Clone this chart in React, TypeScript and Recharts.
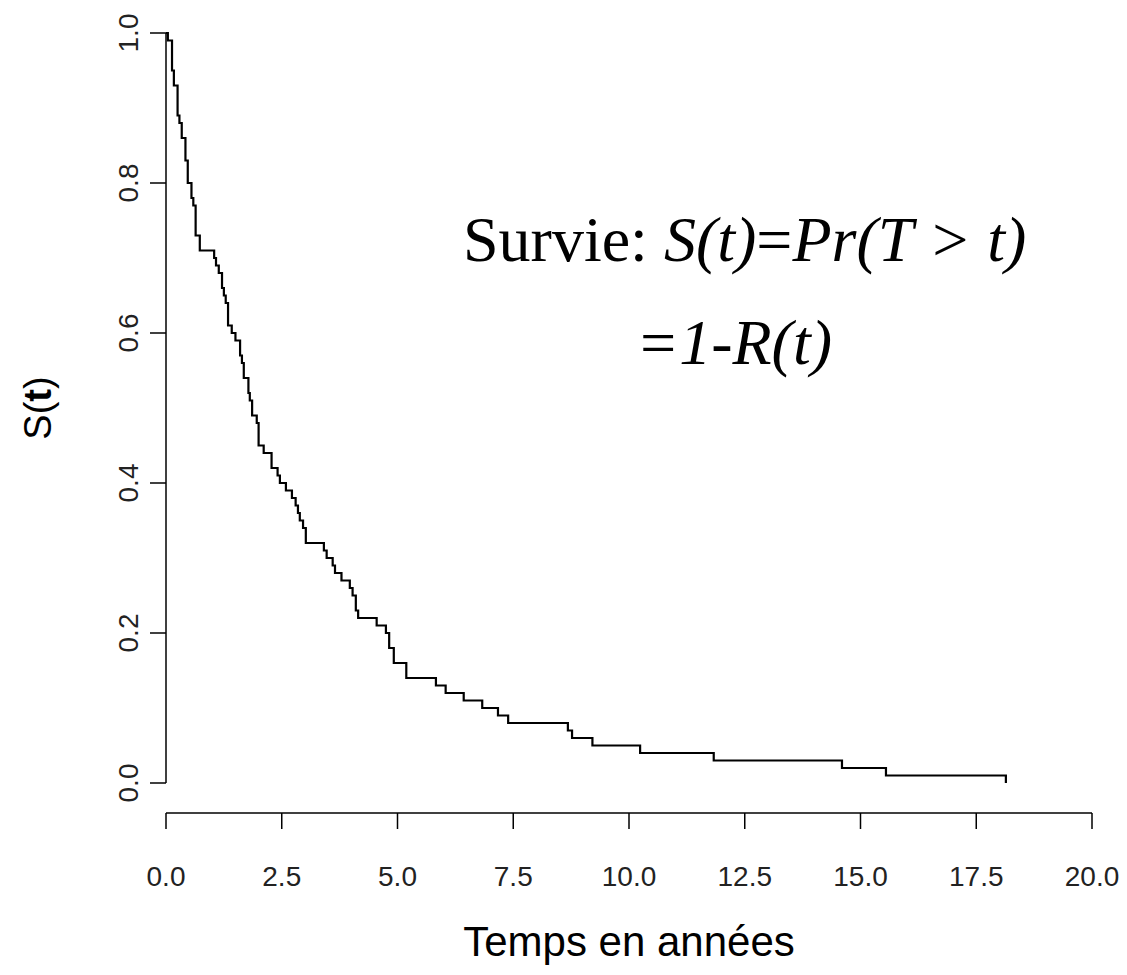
import React from 'react';
import { Label, Line, LineChart, ReferenceLine, XAxis, YAxis } from 'recharts';

// event times (years) and survival estimate after each step
const times = [
    0, 0.04, 0.13, 0.17, 0.25, 0.29, 0.34, 0.42, 0.47, 0.55, 0.59, 0.64, 0.73,
    1.04, 1.08, 1.14, 1.21, 1.25, 1.29, 1.34, 1.42, 1.50, 1.60, 1.64, 1.68, 1.78,
    1.81, 1.86, 1.96, 2.00, 2.11, 2.28, 2.41, 2.46, 2.59, 2.72, 2.80, 2.85, 2.89,
    2.96, 3.02, 3.41, 3.47, 3.60, 3.65, 3.79, 3.97, 4.03, 4.10, 4.15, 4.55, 4.75,
    4.82, 4.92, 5.19, 5.83, 6.04, 6.43, 6.83, 7.17, 7.39, 8.68, 8.77, 9.21, 10.24,
    11.83, 14.60, 15.55, 18.14,
];
const survival = [
    1.00, 0.99, 0.95, 0.93, 0.89, 0.88, 0.86, 0.83, 0.80, 0.78, 0.77, 0.73, 0.71,
    0.70, 0.69, 0.68, 0.66, 0.65, 0.64, 0.61, 0.60, 0.59, 0.57, 0.56, 0.54, 0.52,
    0.51, 0.49, 0.48, 0.45, 0.44, 0.42, 0.41, 0.40, 0.39, 0.38, 0.37, 0.36, 0.35,
    0.34, 0.32, 0.31, 0.30, 0.29, 0.28, 0.27, 0.26, 0.25, 0.23, 0.22, 0.21, 0.20,
    0.18, 0.16, 0.14, 0.13, 0.12, 0.11, 0.10, 0.09, 0.08, 0.07, 0.06, 0.05, 0.04,
    0.03, 0.02, 0.01, 0.00,
];
const xTicks = [0, 2.5, 5, 7.5, 10, 12.5, 15, 17.5, 20];
const yTicks = [0, 0.2, 0.4, 0.6, 0.8, 1.0];

const xTitle = 'Temps en années';
const annotation1 = ['Survie: ', 'S(t)', '=', 'Pr(T > t)'];
const annotation2 = '=1-R(t)';

const data = times.map((t, i) => ({ t, s: survival[i] }));

const sans = '"Liberation Sans", Arial, sans-serif';
const serif = '"Liberation Serif", "Times New Roman", serif';

const XTick = ({ x, y, payload }: any) => (
    <text x={x} y={y + 55} textAnchor="middle" fontSize={28} fontFamily={sans} fill="#222">
        {payload.value.toFixed(1)}
    </text>
);

const YTick = ({ x, y, payload }: any) => (
    <text
        x={x - 20}
        y={y}
        transform={`rotate(-90, ${x - 20}, ${y})`}
        textAnchor="middle"
        dominantBaseline="central"
        fontSize={28}
        fontFamily={sans}
        fill="#222"
    >
        {payload.value.toFixed(1)}
    </text>
);

const App = () => {
    return (
        <div style={{ position: 'absolute', left: 0, top: 0, width: 1127, height: 975, background: '#fff' }}>
            <LineChart
                width={1127}
                height={975}
                data={data}
                margin={{ top: 3, right: 35, bottom: 12, left: 66 }}
            >
                <XAxis
                    dataKey="t"
                    type="number"
                    domain={[0, 20]}
                    ticks={xTicks}
                    interval={0}
                    height={150}
                    tickSize={16}
                    tick={<XTick />}
                    stroke="#000"
                    strokeWidth={1.5}
                >
                    <Label
                        content={({ viewBox }: any) => (
                            <text
                                x={viewBox.x + viewBox.width / 2}
                                y={viewBox.y + 143}
                                textAnchor="middle"
                                fontSize={42}
                                fontFamily={sans}
                                fill="#000"
                            >
                                {xTitle}
                            </text>
                        )}
                    />
                </XAxis>
                <YAxis
                    type="number"
                    domain={[-0.04, 1.04]}
                    ticks={yTicks}
                    interval={0}
                    width={100}
                    tickSize={16}
                    tick={<YTick />}
                    axisLine={false}
                    stroke="#000"
                    strokeWidth={1.5}
                >
                    <Label
                        content={({ viewBox }: any) => {
                            const cx = viewBox.x - 28;
                            const cy = viewBox.y + viewBox.height / 2;
                            return (
                                <text
                                    x={cx}
                                    y={cy}
                                    transform={`rotate(-90, ${cx}, ${cy})`}
                                    textAnchor="middle"
                                    dominantBaseline="central"
                                    fontSize={38}
                                    fontFamily={sans}
                                    fill="#000"
                                >
                                    S(<tspan fontWeight="bold">t</tspan>)
                                </text>
                            );
                        }}
                    />
                </YAxis>
                <ReferenceLine
                    segment={[{ x: 0, y: 0 }, { x: 0, y: 1 }]}
                    stroke="#000"
                    strokeWidth={1.5}
                    ifOverflow="visible"
                />
                <Line
                    type="stepAfter"
                    dataKey="s"
                    stroke="#000"
                    strokeWidth={2.2}
                    dot={false}
                    isAnimationActive={false}
                />
            </LineChart>
            <svg
                width={1127}
                height={975}
                style={{ position: 'absolute', left: 0, top: 0, pointerEvents: 'none' }}
            >
                <text x={463} y={261} fontSize={64} fontFamily={serif} fill="#000">
                    {annotation1[0]}
                    <tspan fontStyle="italic">{annotation1[1]}</tspan>
                    {annotation1[2]}
                    <tspan fontStyle="italic">{annotation1[3]}</tspan>
                </text>
                <text x={636} y={364} fontSize={64} fontFamily={serif} fontStyle="italic" fill="#000">
                    {annotation2}
                </text>
            </svg>
        </div>
    );
};

export default App;
